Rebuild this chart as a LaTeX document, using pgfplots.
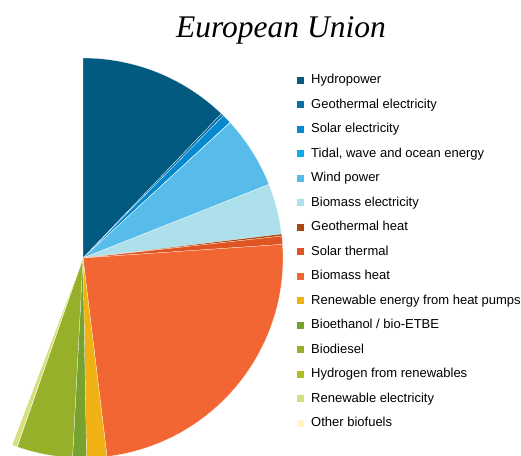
\documentclass[border=0pt]{standalone}
\usepackage{fontspec}
\setmainfont{Liberation Sans}
\newfontfamily\titlefont{Liberation Serif}
\usepackage{pgfplots}
\usepackage{pgfplotstable}
\pgfplotsset{compat=1.18}

\definecolor{c1}{HTML}{035A80}
\definecolor{c2}{HTML}{0B6FA6}
\definecolor{c3}{HTML}{0789CF}
\definecolor{c4}{HTML}{10AAE6}
\definecolor{c5}{HTML}{57BCEA}
\definecolor{c6}{HTML}{ADE0EB}
\definecolor{c7}{HTML}{A84710}
\definecolor{c8}{HTML}{DE5423}
\definecolor{c9}{HTML}{F26633}
\definecolor{c10}{HTML}{EFB114}
\definecolor{c11}{HTML}{78A22F}
\definecolor{c12}{HTML}{96B02A}
\definecolor{c13}{HTML}{AEBE1E}
\definecolor{c14}{HTML}{D6DF7E}
\definecolor{c15}{HTML}{FEF6C6}

% slice sizes in degrees of the full circle (clockwise from 12 o'clock)
\pgfplotstableread[col sep=semicolon]{
name;angle;color
Hydropower;43.8;c1
Geothermal electricity;0.8;c2
Solar electricity;2.7;c3
Tidal, wave and ocean energy;0.1;c4
Wind power;21.0;c5
Biomass electricity;14.7;c6
Geothermal heat;0.6;c7
Solar thermal;2.4;c8
Biomass heat;87.0;c9
Renewable energy from heat pumps;5.9;c10
Bioethanol / bio-ETBE;4.0;c11
Biodiesel;16.2;c12
Hydrogen from renewables;0.1;c13
Renewable electricity;1.5;c14
Other biofuels;0.2;c15
}\slices

\begin{document}
\begin{tikzpicture}
\useasboundingbox (0,0) rectangle (521pt,455pt);
\begin{axis}[
  at={(0,0)}, anchor=south west,
  x=1pt, y=1pt,
  xmin=-83, xmax=438, ymin=-197, ymax=258,
  hide axis,
  legend image code/.code={\fill[#1] (0pt,-3.5pt) rectangle (7pt,3.5pt);},
  legend cell align=left,
  legend style={at={(axis cs:211,186)}, anchor=north west, draw=none, fill=none,
    font=\fontsize{13}{15}\selectfont,
    nodes={inner sep=0pt, text height=9.4pt, text depth=2.7pt},
    row sep=12.4pt, column sep=7pt},
]
\pgfplotstablegetrowsof{\slices}
\pgfmathtruncatemacro\N{\pgfplotsretval-1}
\def\startangle{90}
\pgfplotsforeachungrouped \i in {0,...,\N}{%
  \pgfplotstablegetelem{\i}{angle}\of\slices \let\ang\pgfplotsretval
  \pgfplotstablegetelem{\i}{color}\of\slices \let\col\pgfplotsretval
  \pgfplotstablegetelem{\i}{name}\of\slices \let\nam\pgfplotsretval
  \pgfmathsetmacro\endangle{\startangle-\ang}%
  \edef\temp{%
    \noexpand\fill[\col, draw=white, line width=0.2pt] (axis cs:0,0) -- ++(\startangle:200pt)
      arc[start angle=\startangle, end angle=\endangle, radius=200pt] -- cycle;
    \noexpand\addlegendimage{fill=\col, draw=none}
    \noexpand\addlegendentry{\nam}
  }%
  \temp
  \global\let\startangle\endangle
}
\node[anchor=base] at (axis cs:198,220) {\titlefont\itshape\fontsize{31.5}{36}\selectfont European Union};
\end{axis}
\end{tikzpicture}
\end{document}
